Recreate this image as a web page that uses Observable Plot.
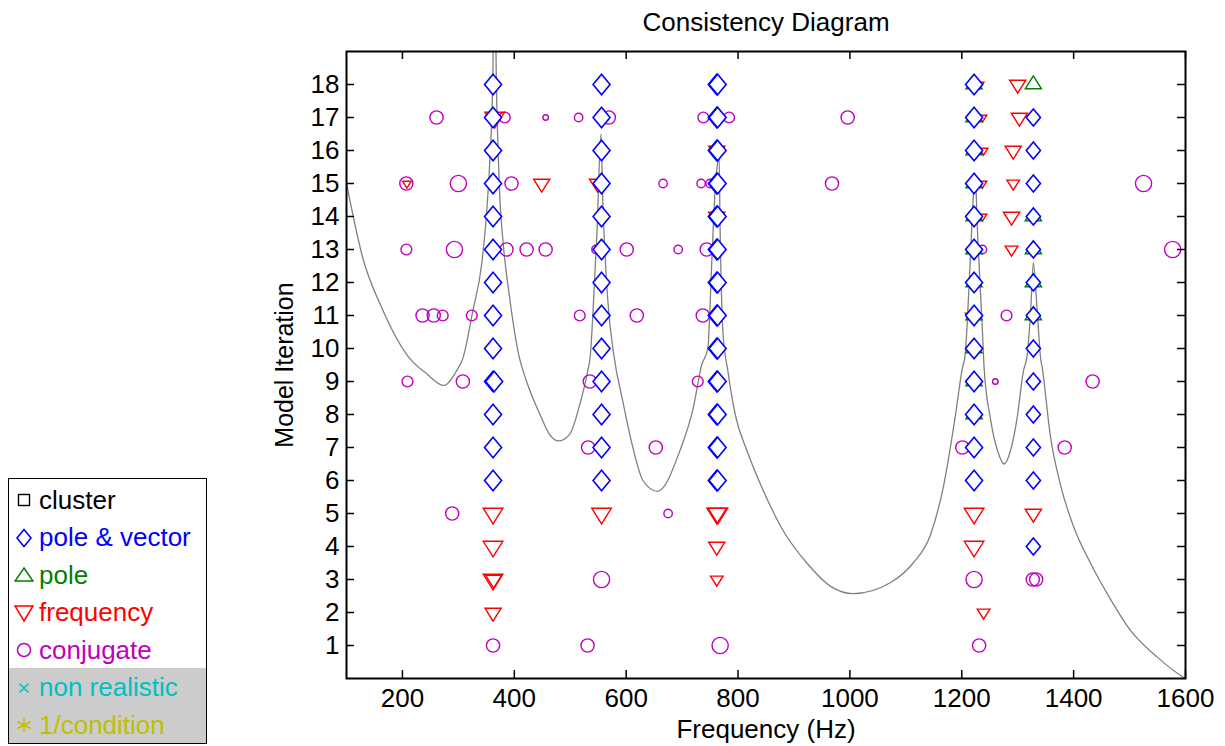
<!DOCTYPE html>
<html>
<head>
<meta charset="utf-8">
<script src="https://cdn.jsdelivr.net/npm/d3@7"></script>
<script src="https://cdn.jsdelivr.net/npm/@observablehq/plot@0.6"></script>
<style>
  html, body { margin: 0; padding: 0; background: white; }
  #wrap { position: relative; width: 1225px; height: 746px; font-family: "Liberation Sans", Arial, Helvetica, sans-serif; }
  #legend { position: absolute; left: 8px; top: 478px; width: 199px; height: 266px; border: 1.5px solid black; background: white; box-sizing: border-box; overflow: hidden; }
  #legend .gray { position: absolute; left: 0; right: 0; top: 189px; bottom: 0; background: #cccccc; }
  #legend .row { position: absolute; left: 0; height: 30px; display: flex; align-items: center; font-size: 26px; white-space: nowrap; }
  #legend .row svg { margin-left: 5px; margin-right: 5px; }
</style>
</head>
<body>
<div id="wrap">
  <div id="chart"></div>
  <div id="legend"></div>
</div>
<script>
// ---------- data ----------
const xTicks = [200, 400, 600, 800, 1000, 1200, 1400, 1600];
const yTicks = [1, 2, 3, 4, 5, 6, 7, 8, 9, 10, 11, 12, 13, 14, 15, 16, 17, 18];

// FRF magnitude curve (scaled onto the iteration axis): frequency and level
const curveFreq = [100, 129, 164, 213, 243, 274, 297, 308, 326, 342, 350, 356, 360, 365.5, 368, 371, 374, 379, 392, 408, 422, 446, 463, 479, 499, 517, 531, 536, 541, 548, 555, 558, 567, 578, 594, 612, 630, 656, 696, 720, 735, 746, 753, 759, 764, 766, 768, 773, 782, 795, 816, 845, 880, 923, 965, 1006, 1072, 1113, 1144, 1167, 1188, 1201, 1206, 1215, 1221, 1224, 1228, 1237, 1240, 1251, 1264, 1276, 1287, 1299, 1310, 1317, 1323, 1328, 1335, 1341, 1344, 1358, 1376, 1400, 1430, 1466, 1502, 1550, 1597, 1600];
const curveLevel = [15.0, 12.75, 11.2, 9.7, 9.24, 8.88, 9.33, 9.7, 11.15, 12.6, 14.0, 15.6, 17.1, 21.0, 18.0, 16.0, 14.6, 13.4, 11.5, 9.8, 9.0, 8.0, 7.4, 7.2, 7.4, 8.3, 9.3, 9.8, 11.2, 13.6, 16.5, 14.6, 11.5, 9.8, 8.4, 7.0, 6.0, 5.67, 6.9, 8.2, 9.5, 10.0, 12.6, 14.8, 15.7, 15.9, 13.6, 10.5, 9.3, 8.0, 6.9, 5.7, 4.5, 3.5, 2.8, 2.57, 2.9, 3.5, 4.35, 5.8, 7.9, 9.4, 9.8, 12.6, 14.7, 15.3, 13.6, 10.5, 9.4, 7.9, 6.9, 6.5, 6.9, 7.9, 9.3, 9.8, 11.1, 12.6, 11.1, 9.7, 9.4, 7.4, 5.9, 4.6, 3.5, 2.4, 1.45, 0.64, 0.03, 0.0];

// stabilisation markers: [frequency (Hz), model iteration, magnitude class]
const poleVector = [
  [362,6,2],[362,7,2],[362,8,2],[362,9,2],[364,9,2],[362,10,2],[362,11,2],[362,12,2],[362,13,2],[362,14,2],[362,15,2],[362,16,2],[362,17,2],[362,18,2],
  [556,6,2],[556,7,2],[556,8,2],[556,9,2],[556,10,2],[556,11,2],[556,12,2],[556,13,2],[556,14,2],[556,15,2],[556,16,2],[556,17,2],[556,18,2],
  [762,6,2],[762,7,2],[762,8,2],[762,9,2],[762,10,2],[762,11,2],[762,12,2],[762,13,2],[762,14,2],[762,15,2],[762,16,2],[762,17,2],[762,18,2],
  [763.5,6,2],[763.5,7,2],[763.5,8,2],[763.5,9,2],[763.5,10,2],[763.5,11,2],[763.5,12,2],[763.5,13,2],[763.5,14,2],[763.5,15,2],[763.5,16,2],[763.5,17,2],[763.5,18,2],
  [1222,6,2],[1222,7,2],[1222,8,2],[1222,9,2],[1222,10,2],[1222,11,2],[1222,12,2],[1222,13,2],[1222,14,2],[1222,15,2],[1222,16,2],[1222,17,2],[1222,18,2],
  [1328,4,1],[1328,6,1],[1328,7,1],[1328,8,1],[1328,9,1],[1328,10,1],[1328,11,1],[1328,12,1],[1328,13,1],[1328,14,1],[1328,15,1],[1328,16,1],[1328,17,1]
];
const pole = [
  [1222,8,3],[1222,9,3],[1222,10,3],[1222,11,3],[1222,12,3],[1222,13,3],[1222,14,3],[1222,15,3],[1222,16,3],[1222,17,3],[1222,18,3],
  [1328,11,3],[1328,12,3],[1328,13,3],[1328,14,3],[1328,18,3]
];
const frequency = [
  [1300,18,3],[1232,18,1],
  [365,17,4],[1237,17,1],[1303,17,3],
  [762,16,3],[1239,16,1],[1292,16,3],
  [208,15,1],[449,15,3],[549,15,3],[1237,15,1],[1292,15,2],
  [762,14,3],[1237,14,1],[1289,14,3],
  [1289,13,2],
  [1214,11,1],
  [362,5,4],[556,5,4],[762,5,4],[764,5,4],[1222,5,4],[1328,5,3],
  [362,4,4],[762,4,3],[1222,4,4],
  [362,3,4],[363,3,3],[762,3,2],
  [362,2,3],[1239,2,2]
];
const conjugate = [
  [261,17,4],[383,17,3],[456,17,1],[515,17,2],[569,17,4],[738,17,3],[784,17,3],[996,17,4],
  [207,15,4],[300,15,5],[395,15,4],[666,15,2],[734,15,2],[750,15,2],[968,15,4],[1525,15,5],
  [207,13,3],[293,13,5],[386,13,4],[422,13,4],[456,13,4],[546,13,2],[601,13,4],[693,13,2],[744,13,4],[1237,13,2],[1577,13,5],
  [236,11,4],[256,11,4],[272,11,3],[324,11,3],[517,11,3],[619,11,4],[737,11,4],[1280,11,3],
  [209,9,3],[308,9,4],[535,9,4],[728,9,3],[1260,9,1],[1434,9,4],
  [532,7,4],[653,7,4],[1201,7,4],[1384,7,4],
  [289,5,4],[675,5,2],
  [556,3,5],[1222,3,5],[1327,3,4],[1333,3,4],
  [362,1,4],[531,1,4],[768,1,5],[1231,1,4]
];

const legendLabels = ["cluster", "pole & vector", "pole", "frequency", "conjugate", "non realistic", "1/condition"];

// ---------- styles ----------
const COL = {black: "#000000", blue: "#0000ff", green: "#008000", red: "#ff0000", magenta: "#bf00bf", cyan: "#00bfbf", olive: "#bfbf00"};
const circleR = {1: 2.8, 2: 4.2, 3: 5.4, 4: 6.6, 5: 8.1};
const triW = {1: 4.3, 2: 6.3, 3: 8.1, 4: 9.8};
const diaW = {1: 7.1, 2: 8.5};

const diamondSym = {draw(ctx, size) {
  const w = Math.sqrt(size / Math.PI), h = w * 1.2;
  ctx.moveTo(0, -h); ctx.lineTo(w, 0); ctx.lineTo(0, h); ctx.lineTo(-w, 0); ctx.closePath();
}};
const triUpSym = {draw(ctx, size) {
  const w = Math.sqrt(size / Math.PI), h = w * 1.6;
  ctx.moveTo(0, -2 * h / 3); ctx.lineTo(w, h / 3); ctx.lineTo(-w, h / 3); ctx.closePath();
}};
const triDownSym = {draw(ctx, size) {
  const w = Math.sqrt(size / Math.PI), h = w * 1.6;
  ctx.moveTo(0, 2 * h / 3); ctx.lineTo(w, -h / 3); ctx.lineTo(-w, -h / 3); ctx.closePath();
}};

const rows = (arr) => arr.map(([f, it, m]) => ({f, it, m}));
const curve = curveFreq.map((f, i) => ({f, a: curveLevel[i]}));

function dotsBySize(arr, sizes, symbol, stroke, sw, fill = "none") {
  const data = rows(arr);
  return Object.keys(sizes).map(k => Plot.dot(data.filter(d => d.m === +k), {
    x: "f", y: "it", r: sizes[k], symbol, stroke, strokeWidth: sw, fill
  }));
}

const PW = 1225 - 346 - 40, PH = 746 - 51 - 68, TL = 8;

const chart = Plot.plot({
  width: 1225,
  height: 746,
  marginLeft: 346,
  marginRight: 40,
  marginTop: 51,
  marginBottom: 68,
  x: {domain: [100, 1600]},
  y: {domain: [0, 19]},
  style: {fontFamily: "'Liberation Sans', Arial, Helvetica, sans-serif", background: "white", color: "black"},
  marks: [
    Plot.line(curve, {x: "f", y: "a", stroke: "#808080", strokeWidth: 1.3, curve: "monotone-x", clip: true}),
    ...dotsBySize(conjugate, circleR, "circle", COL.magenta, 1.4),
    ...dotsBySize(frequency, triW, triDownSym, COL.red, 1.4),
    ...dotsBySize(pole, triW, triUpSym, COL.green, 1.4),
    ...dotsBySize(poleVector, diaW, diamondSym, COL.blue, 1.6, "white"),
    Plot.frame({stroke: "black", strokeWidth: 2}),
    Plot.ruleX(xTicks, {x: d => d, insetTop: PH - TL, stroke: "black", strokeWidth: 1.5}),
    Plot.ruleX(xTicks, {x: d => d, insetBottom: PH - TL, stroke: "black", strokeWidth: 1.5}),
    Plot.ruleY(yTicks, {y: d => d, insetRight: PW - TL, stroke: "black", strokeWidth: 1.5}),
    Plot.ruleY(yTicks, {y: d => d, insetLeft: PW - TL, stroke: "black", strokeWidth: 1.5}),
    Plot.axisX(xTicks, {tickSize: 0, tickPadding: 10, fontSize: 26, label: null, tickFormat: d => String(d)}),
    Plot.axisY(yTicks, {tickSize: 0, tickPadding: 7, fontSize: 26, label: null, tickFormat: d => String(d)}),
    Plot.text(["Consistency Diagram"], {text: d => d, frameAnchor: "top", dy: -29, lineAnchor: "middle", textAnchor: "middle", fontSize: 26, fill: "black"}),
    Plot.text(["Frequency (Hz)"], {text: d => d, frameAnchor: "bottom", dy: 51, lineAnchor: "middle", textAnchor: "middle", fontSize: 26, fill: "black"}),
    Plot.text(["Model Iteration"], {text: d => d, frameAnchor: "left", dx: -62, rotate: -90, lineAnchor: "middle", textAnchor: "middle", fontSize: 25, fill: "black"})
  ]
});
document.getElementById("chart").appendChild(chart);

// ---------- legend ----------
const legendColors = [COL.black, COL.blue, COL.green, COL.red, COL.magenta, COL.cyan, COL.olive];
const legendIcons = [
  '<rect x="4.5" y="4.5" width="11" height="11" fill="none" stroke="black" stroke-width="1.4"/>',
  '<path d="M10,1.5 L17,10 L10,18.5 L3,10 Z" fill="none" stroke="#0000ff" stroke-width="1.6"/>',
  '<path d="M10,3 L19,16 L1,16 Z" fill="none" stroke="#008000" stroke-width="1.5"/>',
  '<path d="M10,18 L19,3 L1,3 Z" fill="none" stroke="#ff0000" stroke-width="1.5"/>',
  '<circle cx="10" cy="10" r="6.5" fill="none" stroke="#bf00bf" stroke-width="1.5"/>',
  '<path d="M5.5,5.5 L14.5,14.5 M14.5,5.5 L5.5,14.5" stroke="#00bfbf" stroke-width="1.5"/>',
  '<path d="M10,3 L10,17 M3.5,6.5 L16.5,13.5 M16.5,6.5 L3.5,13.5" stroke="#bfbf00" stroke-width="1.5"/>'
];
const leg = document.getElementById("legend");
let html = '<div class="gray"></div>';
legendLabels.forEach((lab, i) => {
  const cy = 21 + i * 37.5;
  html += `<div class="row" style="top:${cy - 15}px;color:${legendColors[i]}"><svg width="20" height="20" viewBox="0 0 20 20">${legendIcons[i]}</svg><span>${lab.replace("&", "&amp;")}</span></div>`;
});
leg.innerHTML = html;
</script>
</body>
</html>
